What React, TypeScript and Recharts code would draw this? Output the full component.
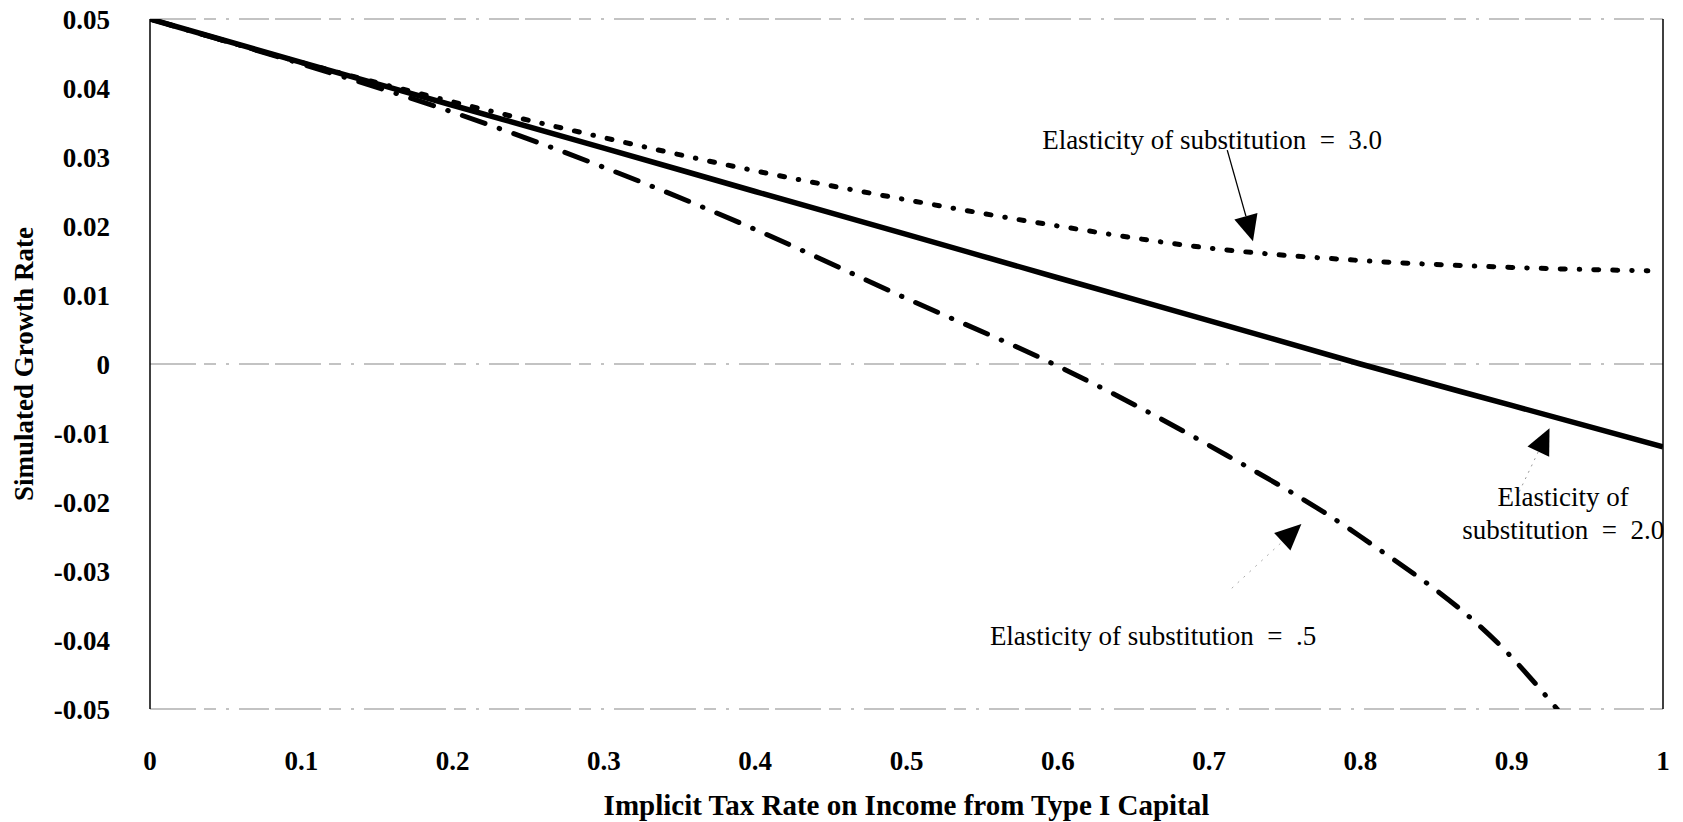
import React from 'react';
import { LineChart, Line, XAxis, YAxis, ReferenceLine, ReferenceDot, Label } from 'recharts';

// Implicit tax rate on type I capital (x) vs simulated growth rate
const X_TICKS = [0, 0.1, 0.2, 0.3, 0.4, 0.5, 0.6, 0.7, 0.8, 0.9, 1];
const Y_TICKS = [0.05, 0.04, 0.03, 0.02, 0.01, 0, -0.01, -0.02, -0.03, -0.04, -0.05];

const X_SIGMA2 = [0, 0.1, 0.2, 0.3, 0.4, 0.5, 0.6, 0.7, 0.8, 0.9, 1];
const SIGMA2 = [0.05, 0.0437, 0.0375, 0.0313, 0.025, 0.0188, 0.0125, 0.0063, 0, -0.006, -0.012];

const X_SIGMA3 = [0, 0.1, 0.2, 0.3, 0.4, 0.5, 0.6, 0.7, 0.8, 0.9, 0.99];
const SIGMA3 = [0.05, 0.0437, 0.038, 0.0328, 0.028, 0.0238, 0.02, 0.0168, 0.015, 0.014, 0.0135];

const X_SIGMA05 = [0, 0.1, 0.2, 0.3, 0.4, 0.5, 0.6, 0.7, 0.8, 0.9, 0.93];
const SIGMA05 = [0.05, 0.0435, 0.0365, 0.0285, 0.0195, 0.0095, -0.0003, -0.0118, -0.025, -0.0425, -0.05];

const toRows = (xs: number[], ys: number[]) => xs.map((x, i) => ({ x, y: ys[i] }));

const FONT = '"Liberation Serif", "Times New Roman", serif';

const ArrowShape = (props: any) => {
  const { x1, y1, x2, y2, stroke, strokeWidth, strokeDasharray } = props;
  const dx = x2 - x1;
  const dy = y2 - y1;
  const len = Math.sqrt(dx * dx + dy * dy) || 1;
  const ux = dx / len;
  const uy = dy / len;
  const head = 26;
  const half = 12;
  const bx = x2 - ux * head;
  const by = y2 - uy * head;
  const pts = `${x2},${y2} ${bx - uy * half},${by + ux * half} ${bx + uy * half},${by - ux * half}`;
  return (
    <g>
      <line x1={x1} y1={y1} x2={bx} y2={by} stroke={stroke} strokeWidth={strokeWidth} strokeDasharray={strokeDasharray} />
      <polygon points={pts} fill="#000" />
    </g>
  );
};

const textShape = (lines: string[]) => (props: any) => {
  const { cx, cy } = props;
  return (
    <text x={cx} y={cy} textAnchor="middle" fontFamily={FONT} fontSize={27} fill="#000" style={{ whiteSpace: 'pre' }}>
      {lines.map((l, i) => (
        <tspan key={i} x={cx} dy={i === 0 ? `${0.35 - (lines.length - 1) * 0.6}em` : '1.2em'}>{l}</tspan>
      ))}
    </text>
  );
};

const gridStyle = { stroke: '#b0b0b0', strokeWidth: 1.5, strokeDasharray: '46 8 12 10 3 10 30 6' };

export default function App() {
  const tickStyle = { fontFamily: FONT, fontSize: 27, fontWeight: 700, fill: '#000' };
  return (
    <div style={{ position: 'absolute', left: 0, top: 0, background: '#fff' }}>
      <LineChart width={1683} height={822} margin={{ top: 19, right: 20, left: 0, bottom: 0 }}>
        <XAxis
          type="number"
          dataKey="x"
          domain={[0, 1]}
          ticks={X_TICKS}
          allowDataOverflow
          axisLine={false}
          tickLine={false}
          tickSize={0}
          tickMargin={42}
          height={113}
          tick={tickStyle}
          tickFormatter={(v: number) => (v === 0 || v === 1 ? String(v) : v.toFixed(1))}
        >
          <Label
            value="Implicit Tax Rate on Income from Type I Capital"
            position="insideBottom"
            offset={7}
            style={{ fontFamily: FONT, fontSize: 29, fontWeight: 700, fill: '#000' }}
          />
        </XAxis>
        <YAxis
          type="number"
          domain={[-0.05, 0.05]}
          ticks={Y_TICKS}
          allowDataOverflow
          width={150}
          axisLine={{ stroke: '#000', strokeWidth: 1.5 }}
          tickLine={false}
          tickSize={0}
          tickMargin={40}
          tick={tickStyle}
          tickFormatter={(v: number) => (v === 0 ? '0' : v.toFixed(2))}
        >
          <Label
            content={({ viewBox }: any) => {
              const x = viewBox.x + 24;
              const y = viewBox.y + viewBox.height / 2;
              return (
                <text x={x} y={y} transform={`rotate(-90 ${x} ${y})`} textAnchor="middle" dominantBaseline="central"
                  fontFamily={FONT} fontSize={27} fontWeight={700} fill="#000">
                  Simulated Growth Rate
                </text>
              );
            }}
          />
        </YAxis>

        <ReferenceLine y={0.05} {...gridStyle} />
        <ReferenceLine y={0} {...gridStyle} />
        <ReferenceLine y={-0.05} {...gridStyle} />
        <ReferenceLine x={1} stroke="#000" strokeWidth={1.5} />

        <Line data={toRows(X_SIGMA3, SIGMA3)} dataKey="y" type="monotone" stroke="#000" strokeWidth={5}
          strokeDasharray="5 14 5 14 0.5 14" strokeLinecap="round" dot={false} isAnimationActive={false} />
        <Line data={toRows(X_SIGMA05, SIGMA05)} dataKey="y" type="monotone" stroke="#000" strokeWidth={5}
          strokeDasharray="24 15 0.5 15" strokeLinecap="round" dot={false} isAnimationActive={false} />
        <Line data={toRows(X_SIGMA2, SIGMA2)} dataKey="y" type="monotone" stroke="#000" strokeWidth={5.5}
          dot={false} isAnimationActive={false} />

        <ReferenceLine segment={[{ x: 0.712, y: 0.031 }, { x: 0.729, y: 0.0178 }]} stroke="#000" strokeWidth={1.3} shape={ArrowShape} />
        <ReferenceLine segment={[{ x: 0.905, y: -0.0185 }, { x: 0.925, y: -0.0093 }]} stroke="#999" strokeWidth={1} strokeDasharray="2 5" shape={ArrowShape} />
        <ReferenceLine segment={[{ x: 0.715, y: -0.0325 }, { x: 0.761, y: -0.0232 }]} stroke="#aaa" strokeWidth={1} strokeDasharray="2 6" shape={ArrowShape} />

        <ReferenceDot x={0.702} y={0.0326} r={0} shape={textShape(['Elasticity of substitution  =  3.0'])} />
        <ReferenceDot x={0.934} y={-0.0216} r={0} shape={textShape(['Elasticity of', 'substitution  =  2.0'])} />
        <ReferenceDot x={0.663} y={-0.0394} r={0} shape={textShape(['Elasticity of substitution  =  .5'])} />
      </LineChart>
    </div>
  );
}
